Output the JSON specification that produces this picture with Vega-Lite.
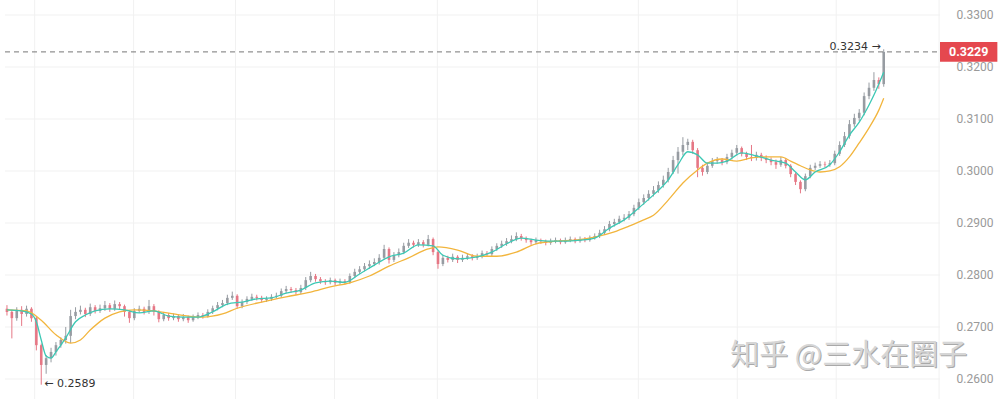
{
"$schema":"https://vega.github.io/schema/vega-lite/v6.json",
"width":945,"height":399,"autosize":{"type":"none"},"padding":{"left":0,"top":0,"right":58,"bottom":0},
"background":"#ffffff",
"config":{"view":{"stroke":null},"font":"Roboto","axis":{"labelColor":"#9a9a9a","labelFontSize":12,"labelFont":"Roboto"}},
"resolve":{"axis":{"x":"independent","y":"independent"}},
"datasets":{
"candles":[
{"i":0,"o":0.2735,"h":0.2742,"l":0.2722,"c":0.2729},
{"i":1,"o":0.2729,"h":0.2733,"l":0.2678,"c":0.2717},
{"i":2,"o":0.2717,"h":0.2738,"l":0.2712,"c":0.2733},
{"i":3,"o":0.2733,"h":0.2740,"l":0.2702,"c":0.2725},
{"i":4,"o":0.2725,"h":0.2741,"l":0.2720,"c":0.2735},
{"i":5,"o":0.2735,"h":0.2738,"l":0.2710,"c":0.2717},
{"i":6,"o":0.2717,"h":0.2720,"l":0.2655,"c":0.2665},
{"i":7,"o":0.2665,"h":0.2668,"l":0.2589,"c":0.2627},
{"i":8,"o":0.2627,"h":0.2646,"l":0.2610,"c":0.2640},
{"i":9,"o":0.2640,"h":0.2660,"l":0.2632,"c":0.2652},
{"i":10,"o":0.2652,"h":0.2671,"l":0.2645,"c":0.2665},
{"i":11,"o":0.2665,"h":0.2680,"l":0.2660,"c":0.2675},
{"i":12,"o":0.2675,"h":0.2700,"l":0.2668,"c":0.2683},
{"i":13,"o":0.2683,"h":0.2733,"l":0.2669,"c":0.2721},
{"i":14,"o":0.2721,"h":0.2738,"l":0.2715,"c":0.2729},
{"i":15,"o":0.2729,"h":0.2741,"l":0.2724,"c":0.2733},
{"i":16,"o":0.2733,"h":0.2737,"l":0.2719,"c":0.2725},
{"i":17,"o":0.2725,"h":0.2745,"l":0.2721,"c":0.2738},
{"i":18,"o":0.2738,"h":0.2742,"l":0.2726,"c":0.2731},
{"i":19,"o":0.2731,"h":0.2743,"l":0.2727,"c":0.2736},
{"i":20,"o":0.2736,"h":0.2750,"l":0.2731,"c":0.2742},
{"i":21,"o":0.2742,"h":0.2746,"l":0.2729,"c":0.2735},
{"i":22,"o":0.2735,"h":0.2751,"l":0.2731,"c":0.2744},
{"i":23,"o":0.2744,"h":0.2748,"l":0.2734,"c":0.2740},
{"i":24,"o":0.2740,"h":0.2743,"l":0.2720,"c":0.2729},
{"i":25,"o":0.2729,"h":0.2732,"l":0.2708,"c":0.2717},
{"i":26,"o":0.2717,"h":0.2736,"l":0.2713,"c":0.2731},
{"i":27,"o":0.2731,"h":0.2741,"l":0.2727,"c":0.2735},
{"i":28,"o":0.2735,"h":0.2739,"l":0.2724,"c":0.2729},
{"i":29,"o":0.2729,"h":0.2752,"l":0.2725,"c":0.2740},
{"i":30,"o":0.2740,"h":0.2744,"l":0.2722,"c":0.2729},
{"i":31,"o":0.2729,"h":0.2732,"l":0.2709,"c":0.2715},
{"i":32,"o":0.2715,"h":0.2729,"l":0.2711,"c":0.2723},
{"i":33,"o":0.2723,"h":0.2727,"l":0.2712,"c":0.2717},
{"i":34,"o":0.2717,"h":0.2726,"l":0.2713,"c":0.2721},
{"i":35,"o":0.2721,"h":0.2724,"l":0.2710,"c":0.2715},
{"i":36,"o":0.2715,"h":0.2725,"l":0.2711,"c":0.2719},
{"i":37,"o":0.2719,"h":0.2722,"l":0.2708,"c":0.2713},
{"i":38,"o":0.2713,"h":0.2724,"l":0.2710,"c":0.2719},
{"i":39,"o":0.2719,"h":0.2728,"l":0.2715,"c":0.2723},
{"i":40,"o":0.2723,"h":0.2727,"l":0.2716,"c":0.2721},
{"i":41,"o":0.2721,"h":0.2734,"l":0.2718,"c":0.2729},
{"i":42,"o":0.2729,"h":0.2741,"l":0.2725,"c":0.2736},
{"i":43,"o":0.2736,"h":0.2748,"l":0.2732,"c":0.2742},
{"i":44,"o":0.2742,"h":0.2752,"l":0.2738,"c":0.2746},
{"i":45,"o":0.2746,"h":0.2762,"l":0.2742,"c":0.2756},
{"i":46,"o":0.2756,"h":0.2768,"l":0.2752,"c":0.2760},
{"i":47,"o":0.2760,"h":0.2763,"l":0.2735,"c":0.2740},
{"i":48,"o":0.2740,"h":0.2753,"l":0.2736,"c":0.2748},
{"i":49,"o":0.2748,"h":0.2759,"l":0.2744,"c":0.2754},
{"i":50,"o":0.2754,"h":0.2764,"l":0.2750,"c":0.2758},
{"i":51,"o":0.2758,"h":0.2762,"l":0.2751,"c":0.2756},
{"i":52,"o":0.2756,"h":0.2760,"l":0.2747,"c":0.2752},
{"i":53,"o":0.2752,"h":0.2759,"l":0.2748,"c":0.2754},
{"i":54,"o":0.2754,"h":0.2763,"l":0.2750,"c":0.2758},
{"i":55,"o":0.2758,"h":0.2766,"l":0.2755,"c":0.2760},
{"i":56,"o":0.2760,"h":0.2774,"l":0.2756,"c":0.2769},
{"i":57,"o":0.2769,"h":0.2779,"l":0.2765,"c":0.2773},
{"i":58,"o":0.2773,"h":0.2777,"l":0.2766,"c":0.2771},
{"i":59,"o":0.2771,"h":0.2775,"l":0.2762,"c":0.2767},
{"i":60,"o":0.2767,"h":0.2781,"l":0.2763,"c":0.2775},
{"i":61,"o":0.2775,"h":0.2796,"l":0.2771,"c":0.2790},
{"i":62,"o":0.2790,"h":0.2806,"l":0.2786,"c":0.2798},
{"i":63,"o":0.2798,"h":0.2802,"l":0.2787,"c":0.2792},
{"i":64,"o":0.2792,"h":0.2796,"l":0.2783,"c":0.2788},
{"i":65,"o":0.2788,"h":0.2792,"l":0.2781,"c":0.2786},
{"i":66,"o":0.2786,"h":0.2795,"l":0.2782,"c":0.2790},
{"i":67,"o":0.2790,"h":0.2793,"l":0.2780,"c":0.2785},
{"i":68,"o":0.2785,"h":0.2793,"l":0.2781,"c":0.2788},
{"i":69,"o":0.2788,"h":0.2792,"l":0.2782,"c":0.2786},
{"i":70,"o":0.2786,"h":0.2803,"l":0.2783,"c":0.2798},
{"i":71,"o":0.2798,"h":0.2812,"l":0.2794,"c":0.2806},
{"i":72,"o":0.2806,"h":0.2817,"l":0.2802,"c":0.2811},
{"i":73,"o":0.2811,"h":0.2823,"l":0.2807,"c":0.2817},
{"i":74,"o":0.2817,"h":0.2828,"l":0.2812,"c":0.2821},
{"i":75,"o":0.2821,"h":0.2832,"l":0.2817,"c":0.2825},
{"i":76,"o":0.2825,"h":0.2840,"l":0.2820,"c":0.2833},
{"i":77,"o":0.2833,"h":0.2858,"l":0.2829,"c":0.2850},
{"i":78,"o":0.2850,"h":0.2853,"l":0.2822,"c":0.2829},
{"i":79,"o":0.2829,"h":0.2844,"l":0.2825,"c":0.2838},
{"i":80,"o":0.2838,"h":0.2851,"l":0.2834,"c":0.2844},
{"i":81,"o":0.2844,"h":0.2862,"l":0.2840,"c":0.2856},
{"i":82,"o":0.2856,"h":0.2869,"l":0.2852,"c":0.2862},
{"i":83,"o":0.2862,"h":0.2866,"l":0.2853,"c":0.2858},
{"i":84,"o":0.2858,"h":0.2869,"l":0.2854,"c":0.2863},
{"i":85,"o":0.2863,"h":0.2867,"l":0.2853,"c":0.2858},
{"i":86,"o":0.2858,"h":0.2877,"l":0.2855,"c":0.2869},
{"i":87,"o":0.2869,"h":0.2872,"l":0.2838,"c":0.2844},
{"i":88,"o":0.2844,"h":0.2847,"l":0.2812,"c":0.2821},
{"i":89,"o":0.2821,"h":0.2839,"l":0.2817,"c":0.2833},
{"i":90,"o":0.2833,"h":0.2837,"l":0.2824,"c":0.2829},
{"i":91,"o":0.2829,"h":0.2841,"l":0.2825,"c":0.2835},
{"i":92,"o":0.2835,"h":0.2838,"l":0.2823,"c":0.2829},
{"i":93,"o":0.2829,"h":0.2839,"l":0.2825,"c":0.2833},
{"i":94,"o":0.2833,"h":0.2842,"l":0.2829,"c":0.2836},
{"i":95,"o":0.2836,"h":0.2840,"l":0.2828,"c":0.2833},
{"i":96,"o":0.2833,"h":0.2841,"l":0.2829,"c":0.2836},
{"i":97,"o":0.2836,"h":0.2847,"l":0.2832,"c":0.2842},
{"i":98,"o":0.2842,"h":0.2846,"l":0.2835,"c":0.2840},
{"i":99,"o":0.2840,"h":0.2855,"l":0.2836,"c":0.2850},
{"i":100,"o":0.2850,"h":0.2861,"l":0.2846,"c":0.2856},
{"i":101,"o":0.2856,"h":0.2866,"l":0.2852,"c":0.2860},
{"i":102,"o":0.2860,"h":0.2871,"l":0.2856,"c":0.2865},
{"i":103,"o":0.2865,"h":0.2876,"l":0.2861,"c":0.2869},
{"i":104,"o":0.2869,"h":0.2882,"l":0.2865,"c":0.2875},
{"i":105,"o":0.2875,"h":0.2879,"l":0.2866,"c":0.2871},
{"i":106,"o":0.2871,"h":0.2874,"l":0.2862,"c":0.2867},
{"i":107,"o":0.2867,"h":0.2870,"l":0.2858,"c":0.2863},
{"i":108,"o":0.2863,"h":0.2872,"l":0.2859,"c":0.2867},
{"i":109,"o":0.2867,"h":0.2870,"l":0.2860,"c":0.2865},
{"i":110,"o":0.2865,"h":0.2868,"l":0.2857,"c":0.2862},
{"i":111,"o":0.2862,"h":0.2870,"l":0.2858,"c":0.2865},
{"i":112,"o":0.2865,"h":0.2872,"l":0.2861,"c":0.2867},
{"i":113,"o":0.2867,"h":0.2870,"l":0.2859,"c":0.2863},
{"i":114,"o":0.2863,"h":0.2872,"l":0.2860,"c":0.2867},
{"i":115,"o":0.2867,"h":0.2874,"l":0.2863,"c":0.2869},
{"i":116,"o":0.2869,"h":0.2872,"l":0.2861,"c":0.2865},
{"i":117,"o":0.2865,"h":0.2874,"l":0.2862,"c":0.2869},
{"i":118,"o":0.2869,"h":0.2873,"l":0.2863,"c":0.2867},
{"i":119,"o":0.2867,"h":0.2876,"l":0.2864,"c":0.2871},
{"i":120,"o":0.2871,"h":0.2880,"l":0.2868,"c":0.2875},
{"i":121,"o":0.2875,"h":0.2887,"l":0.2871,"c":0.2881},
{"i":122,"o":0.2881,"h":0.2894,"l":0.2877,"c":0.2888},
{"i":123,"o":0.2888,"h":0.2904,"l":0.2884,"c":0.2898},
{"i":124,"o":0.2898,"h":0.2908,"l":0.2893,"c":0.2902},
{"i":125,"o":0.2902,"h":0.2914,"l":0.2898,"c":0.2908},
{"i":126,"o":0.2908,"h":0.2917,"l":0.2903,"c":0.2910},
{"i":127,"o":0.2910,"h":0.2923,"l":0.2906,"c":0.2917},
{"i":128,"o":0.2917,"h":0.2935,"l":0.2913,"c":0.2929},
{"i":129,"o":0.2929,"h":0.2947,"l":0.2925,"c":0.2940},
{"i":130,"o":0.2940,"h":0.2955,"l":0.2935,"c":0.2948},
{"i":131,"o":0.2948,"h":0.2963,"l":0.2943,"c":0.2956},
{"i":132,"o":0.2956,"h":0.2971,"l":0.2951,"c":0.2963},
{"i":133,"o":0.2963,"h":0.2980,"l":0.2958,"c":0.2973},
{"i":134,"o":0.2973,"h":0.2991,"l":0.2968,"c":0.2983},
{"i":135,"o":0.2983,"h":0.3006,"l":0.2978,"c":0.2998},
{"i":136,"o":0.2998,"h":0.3029,"l":0.2994,"c":0.3021},
{"i":137,"o":0.3021,"h":0.3046,"l":0.2995,"c":0.3037},
{"i":138,"o":0.3037,"h":0.3065,"l":0.3030,"c":0.3050},
{"i":139,"o":0.3050,"h":0.3062,"l":0.3040,"c":0.3056},
{"i":140,"o":0.3056,"h":0.3060,"l":0.3033,"c":0.3040},
{"i":141,"o":0.3040,"h":0.3044,"l":0.2988,"c":0.3006},
{"i":142,"o":0.3006,"h":0.3012,"l":0.2991,"c":0.2998},
{"i":143,"o":0.2998,"h":0.3016,"l":0.2994,"c":0.3010},
{"i":144,"o":0.3010,"h":0.3025,"l":0.3006,"c":0.3019},
{"i":145,"o":0.3019,"h":0.3027,"l":0.3014,"c":0.3021},
{"i":146,"o":0.3021,"h":0.3025,"l":0.3011,"c":0.3017},
{"i":147,"o":0.3017,"h":0.3033,"l":0.3013,"c":0.3027},
{"i":148,"o":0.3027,"h":0.3041,"l":0.3022,"c":0.3035},
{"i":149,"o":0.3035,"h":0.3050,"l":0.3030,"c":0.3044},
{"i":150,"o":0.3044,"h":0.3047,"l":0.3028,"c":0.3033},
{"i":151,"o":0.3033,"h":0.3037,"l":0.3021,"c":0.3027},
{"i":152,"o":0.3027,"h":0.3050,"l":0.3019,"c":0.3025},
{"i":153,"o":0.3025,"h":0.3037,"l":0.3020,"c":0.3031},
{"i":154,"o":0.3031,"h":0.3035,"l":0.3019,"c":0.3025},
{"i":155,"o":0.3025,"h":0.3030,"l":0.3015,"c":0.3021},
{"i":156,"o":0.3021,"h":0.3026,"l":0.3011,"c":0.3017},
{"i":157,"o":0.3017,"h":0.3022,"l":0.3004,"c":0.3012},
{"i":158,"o":0.3012,"h":0.3027,"l":0.3008,"c":0.3021},
{"i":159,"o":0.3021,"h":0.3025,"l":0.3005,"c":0.3010},
{"i":160,"o":0.3010,"h":0.3013,"l":0.2988,"c":0.2994},
{"i":161,"o":0.2994,"h":0.2997,"l":0.2973,"c":0.2979},
{"i":162,"o":0.2979,"h":0.2982,"l":0.2957,"c":0.2965},
{"i":163,"o":0.2965,"h":0.2995,"l":0.2961,"c":0.2990},
{"i":164,"o":0.2990,"h":0.3012,"l":0.2986,"c":0.3006},
{"i":165,"o":0.3006,"h":0.3016,"l":0.3002,"c":0.3010},
{"i":166,"o":0.3010,"h":0.3019,"l":0.3006,"c":0.3013},
{"i":167,"o":0.3013,"h":0.3018,"l":0.3007,"c":0.3012},
{"i":168,"o":0.3012,"h":0.3021,"l":0.3008,"c":0.3015},
{"i":169,"o":0.3015,"h":0.3039,"l":0.3011,"c":0.3033},
{"i":170,"o":0.3033,"h":0.3057,"l":0.3029,"c":0.3050},
{"i":171,"o":0.3050,"h":0.3075,"l":0.3046,"c":0.3067},
{"i":172,"o":0.3067,"h":0.3098,"l":0.3062,"c":0.3090},
{"i":173,"o":0.3090,"h":0.3110,"l":0.3085,"c":0.3102},
{"i":174,"o":0.3102,"h":0.3119,"l":0.3096,"c":0.3112},
{"i":175,"o":0.3112,"h":0.3151,"l":0.3107,"c":0.3144},
{"i":176,"o":0.3144,"h":0.3170,"l":0.3138,"c":0.3160},
{"i":177,"o":0.3160,"h":0.3190,"l":0.3154,"c":0.3175},
{"i":178,"o":0.3175,"h":0.3180,"l":0.3158,"c":0.3167},
{"i":179,"o":0.3167,"h":0.3234,"l":0.3162,"c":0.3229}
],
"teal":[
{"i":0,"m":0.2733},{"i":3,"m":0.2731},{"i":5,"m":0.2725},{"i":6,"m":0.2710},{"i":7,"m":0.2675},{"i":8,"m":0.2644},{"i":9,"m":0.2640},{"i":10,"m":0.2652},{"i":12,"m":0.2679},{"i":14,"m":0.2710},{"i":16,"m":0.2723},{"i":18,"m":0.2731},{"i":21,"m":0.2735},{"i":24,"m":0.2733},{"i":27,"m":0.2727},{"i":30,"m":0.2731},{"i":33,"m":0.2721},{"i":36,"m":0.2719},{"i":39,"m":0.2719},{"i":42,"m":0.2729},{"i":45,"m":0.2744},{"i":48,"m":0.2748},{"i":51,"m":0.2754},{"i":54,"m":0.2756},{"i":57,"m":0.2765},{"i":60,"m":0.2771},{"i":63,"m":0.2785},{"i":66,"m":0.2788},{"i":69,"m":0.2786},{"i":72,"m":0.2802},{"i":75,"m":0.2819},{"i":78,"m":0.2835},{"i":81,"m":0.2842},{"i":84,"m":0.2858},{"i":87,"m":0.2856},{"i":89,"m":0.2838},{"i":92,"m":0.2831},{"i":96,"m":0.2835},{"i":99,"m":0.2844},{"i":102,"m":0.2860},{"i":105,"m":0.2871},{"i":108,"m":0.2867},{"i":111,"m":0.2865},{"i":114,"m":0.2865},{"i":117,"m":0.2867},{"i":120,"m":0.2871},{"i":123,"m":0.2890},{"i":126,"m":0.2906},{"i":129,"m":0.2929},{"i":132,"m":0.2954},{"i":135,"m":0.2983},{"i":137,"m":0.3012},{"i":139,"m":0.3037},{"i":141,"m":0.3031},{"i":143,"m":0.3015},{"i":145,"m":0.3015},{"i":147,"m":0.3019},{"i":150,"m":0.3035},{"i":153,"m":0.3029},{"i":156,"m":0.3021},{"i":159,"m":0.3015},{"i":161,"m":0.2998},{"i":163,"m":0.2983},{"i":165,"m":0.2998},{"i":168,"m":0.3012},{"i":170,"m":0.3037},{"i":172,"m":0.3069},{"i":174,"m":0.3094},{"i":176,"m":0.3127},{"i":177,"m":0.3146},{"i":179,"m":0.3190}
],
"orange":[
{"i":0,"m":0.2733},{"i":4,"m":0.2731},{"i":7,"m":0.2713},{"i":10,"m":0.2685},{"i":13,"m":0.2669},{"i":15,"m":0.2675},{"i":17,"m":0.2694},{"i":20,"m":0.2717},{"i":23,"m":0.2729},{"i":26,"m":0.2733},{"i":30,"m":0.2731},{"i":34,"m":0.2725},{"i":38,"m":0.2720},{"i":40,"m":0.2719},{"i":44,"m":0.2725},{"i":47,"m":0.2736},{"i":52,"m":0.2748},{"i":57,"m":0.2758},{"i":62,"m":0.2767},{"i":66,"m":0.2777},{"i":70,"m":0.2785},{"i":74,"m":0.2798},{"i":78,"m":0.2817},{"i":82,"m":0.2833},{"i":86,"m":0.2850},{"i":88,"m":0.2854},{"i":92,"m":0.2848},{"i":96,"m":0.2836},{"i":100,"m":0.2836},{"i":104,"m":0.2844},{"i":108,"m":0.2860},{"i":112,"m":0.2865},{"i":116,"m":0.2867},{"i":120,"m":0.2873},{"i":124,"m":0.2883},{"i":127,"m":0.2894},{"i":130,"m":0.2906},{"i":132,"m":0.2915},{"i":135,"m":0.2944},{"i":138,"m":0.2977},{"i":141,"m":0.3002},{"i":143,"m":0.3015},{"i":146,"m":0.3023},{"i":149,"m":0.3019},{"i":152,"m":0.3025},{"i":155,"m":0.3027},{"i":158,"m":0.3027},{"i":160,"m":0.3019},{"i":162,"m":0.3010},{"i":164,"m":0.3002},{"i":166,"m":0.2998},{"i":168,"m":0.3000},{"i":170,"m":0.3008},{"i":172,"m":0.3027},{"i":174,"m":0.3054},{"i":176,"m":0.3083},{"i":178,"m":0.3117},{"i":179,"m":0.3140}
],
"hgrid":[{"v":0.26,"a":-0.4,"b":190.49},{"v":0.27,"a":-0.4,"b":190.49},{"v":0.28,"a":-0.4,"b":190.49},{"v":0.29,"a":-0.4,"b":190.49},{"v":0.30,"a":-0.4,"b":190.49},{"v":0.31,"a":-0.4,"b":190.49},{"v":0.32,"a":-0.4,"b":190.49},{"v":0.33,"a":-0.4,"b":190.49}],
"vgrid":[{"i":5.66},{"i":25.86},{"i":46.67},{"i":66.86},{"i":87.87},{"i":108.3},{"i":128.9},{"i":149.1},{"i":169.3},{"i":190.3}],
"last":[{"a":-0.4,"i0":190.49,"i1":202.2,"v":0.3229,"top":0.3248,"bot":0.3210,"label":"0.3229","xm":196.35}],
"notes":[
{"i":179,"v":0.3234,"label":"0.3234 →","side":"right"},
{"i":7,"v":0.2589,"label":"← 0.2589","side":"left"}
],
"wm":[{"i":147.66,"v":0.2644,"label":"知乎 @三水在圈子"}]
},
"layer":[
{"data":{"name":"vgrid"},"mark":{"type":"rule","color":"#f1f1f1","strokeWidth":1},
 "encoding":{
  "x":{"field":"i","type":"quantitative","scale":{"domain":[-0.4,190.49],"nice":false,"zero":false},"axis":null}
 }},
{"data":{"name":"hgrid"},"mark":{"type":"rule","color":"#f1f1f1","strokeWidth":1},
 "encoding":{
  "y":{"field":"v","type":"quantitative","scale":{"domain":[0.25615,0.33288],"nice":false,"zero":false},
   "axis":{"orient":"right","values":[0.26,0.27,0.28,0.29,0.30,0.31,0.32,0.33],"format":".4f","labelPadding":11,"ticks":false,"domain":false,"grid":false,"title":null,"labelAlign":"left","labelBaseline":"middle","labelFlush":false,"labelOverlap":false}},
  "x":{"field":"a","type":"quantitative","scale":{"domain":[-0.4,190.49],"nice":false,"zero":false},"axis":null},
  "x2":{"field":"b"}
 }},
{"data":{"name":"candles"},"mark":{"type":"rule","strokeWidth":1},
 "encoding":{
  "x":{"field":"i","type":"quantitative","scale":{"domain":[-0.4,190.49],"nice":false,"zero":false},"axis":null},
  "y":{"field":"l","type":"quantitative","scale":{"domain":[0.25615,0.33288],"nice":false,"zero":false},"axis":null},
  "y2":{"field":"h"},
  "color":{"condition":{"test":"datum.c >= datum.o","value":"#979ca2"},"value":"#e67785"}
 }},
{"data":{"name":"candles"},"mark":{"type":"bar","size":2.6},
 "encoding":{
  "x":{"field":"i","type":"quantitative","scale":{"domain":[-0.4,190.49],"nice":false,"zero":false},"axis":null},
  "y":{"field":"o","type":"quantitative","scale":{"domain":[0.25615,0.33288],"nice":false,"zero":false},"axis":null},
  "y2":{"field":"c"},
  "color":{"condition":{"test":"datum.c >= datum.o","value":"#979ca2"},"value":"#e67785"}
 }},
{"data":{"name":"orange"},"mark":{"type":"line","color":"#f2b53d","strokeWidth":1.3,"interpolate":"monotone"},
 "encoding":{
  "x":{"field":"i","type":"quantitative","scale":{"domain":[-0.4,190.49],"nice":false,"zero":false},"axis":null},
  "y":{"field":"m","type":"quantitative","scale":{"domain":[0.25615,0.33288],"nice":false,"zero":false},"axis":null}
 }},
{"data":{"name":"teal"},"mark":{"type":"line","color":"#3cc8b4","strokeWidth":1.3,"interpolate":"monotone"},
 "encoding":{
  "x":{"field":"i","type":"quantitative","scale":{"domain":[-0.4,190.49],"nice":false,"zero":false},"axis":null},
  "y":{"field":"m","type":"quantitative","scale":{"domain":[0.25615,0.33288],"nice":false,"zero":false},"axis":null}
 }},
{"data":{"name":"last"},"mark":{"type":"rule","color":"#777777","strokeWidth":1,"strokeDash":[5,4]},
 "encoding":{
  "x":{"field":"a","type":"quantitative","scale":{"domain":[-0.4,190.49],"nice":false,"zero":false},"axis":null},
  "x2":{"field":"i0"},
  "y":{"field":"v","type":"quantitative","scale":{"domain":[0.25615,0.33288],"nice":false,"zero":false},"axis":null}
 }},
{"data":{"name":"last"},"mark":{"type":"rect","color":"#e5484f"},
 "encoding":{
  "x":{"field":"i0","type":"quantitative","scale":{"domain":[-0.4,190.49],"nice":false,"zero":false},"axis":null},
  "x2":{"field":"i1"},
  "y":{"field":"top","type":"quantitative","scale":{"domain":[0.25615,0.33288],"nice":false,"zero":false},"axis":null},
  "y2":{"field":"bot"}
 }},
{"data":{"name":"last"},"mark":{"type":"text","color":"#ffffff","fontSize":12.5,"fontWeight":"bold","font":"Roboto","align":"center","baseline":"middle"},
 "encoding":{
  "x":{"field":"xm","type":"quantitative","scale":{"domain":[-0.4,190.49],"nice":false,"zero":false},"axis":null},
  "y":{"field":"v","type":"quantitative","scale":{"domain":[0.25615,0.33288],"nice":false,"zero":false},"axis":null},
  "text":{"field":"label"}
 }},
{"data":{"name":"notes"},"transform":[{"filter":"datum.side == 'right'"}],"mark":{"type":"text","color":"#333333","fontSize":11,"font":"DejaVu Sans","align":"right","baseline":"middle","dx":-3,"dy":-2},
 "encoding":{
  "x":{"field":"i","type":"quantitative","scale":{"domain":[-0.4,190.49],"nice":false,"zero":false},"axis":null},
  "y":{"field":"v","type":"quantitative","scale":{"domain":[0.25615,0.33288],"nice":false,"zero":false},"axis":null},
  "text":{"field":"label"}
 }},
{"data":{"name":"notes"},"transform":[{"filter":"datum.side == 'left'"}],"mark":{"type":"text","color":"#333333","fontSize":11,"font":"DejaVu Sans","align":"left","baseline":"middle","dx":3,"dy":-1},
 "encoding":{
  "x":{"field":"i","type":"quantitative","scale":{"domain":[-0.4,190.49],"nice":false,"zero":false},"axis":null},
  "y":{"field":"v","type":"quantitative","scale":{"domain":[0.25615,0.33288],"nice":false,"zero":false},"axis":null},
  "text":{"field":"label"}
 }},
{"data":{"name":"wm"},"mark":{"type":"text","color":"#a9a9a9","fontSize":29,"font":"Noto Sans CJK SC","align":"left","baseline":"middle","dx":1,"dy":1},
 "encoding":{
  "x":{"field":"i","type":"quantitative","scale":{"domain":[-0.4,190.49],"nice":false,"zero":false},"axis":null},
  "y":{"field":"v","type":"quantitative","scale":{"domain":[0.25615,0.33288],"nice":false,"zero":false},"axis":null},
  "text":{"field":"label"}
 }},
{"data":{"name":"wm"},"mark":{"type":"text","color":"#d6d6d6","fontSize":29,"font":"Noto Sans CJK SC","align":"left","baseline":"middle"},
 "encoding":{
  "x":{"field":"i","type":"quantitative","scale":{"domain":[-0.4,190.49],"nice":false,"zero":false},"axis":null},
  "y":{"field":"v","type":"quantitative","scale":{"domain":[0.25615,0.33288],"nice":false,"zero":false},"axis":null},
  "text":{"field":"label"}
 }}
]
}
